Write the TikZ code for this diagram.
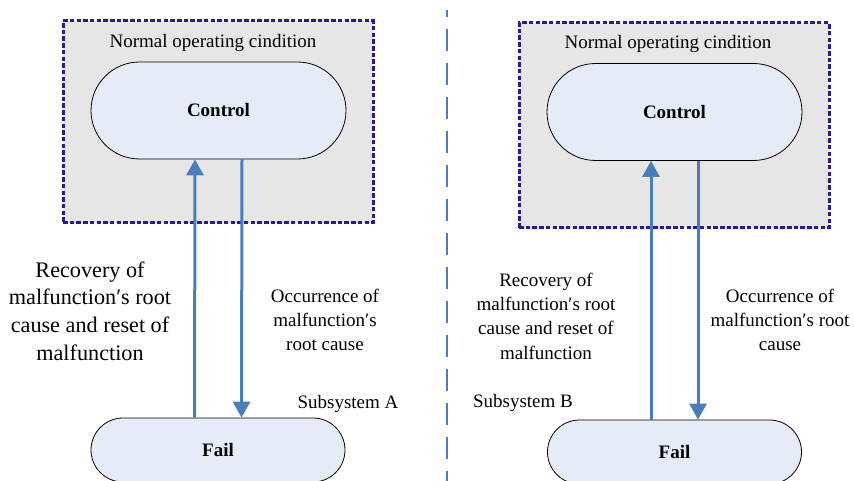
\documentclass[tikz,border=0pt]{standalone}
\usepackage{fontspec}
\setmainfont{Liberation Serif}
\usetikzlibrary{arrows.meta}
\definecolor{boxfill}{RGB}{230,230,230}
\definecolor{boxline}{RGB}{40,28,135}
\definecolor{nodefill}{RGB}{230,236,247}
\definecolor{arrowblue}{RGB}{74,126,187}
\begin{document}
\begin{tikzpicture}[x=1pt,y=-1pt,
  panel/.style={draw=boxline, fill=boxfill, line width=3pt, dash pattern=on 4.5pt off 2.2pt, inner sep=0pt},
  stadium/.style={draw=black, line width=0.8pt, fill=nodefill, inner sep=0pt, font=\fontsize{19}{23}\selectfont\bfseries},
  ctrl/.style={stadium, minimum width=255pt, minimum height=97pt, rounded corners=48.5pt},
  failn/.style={stadium, minimum width=254pt, minimum height=64pt, rounded corners=32pt},
  arr/.style={draw=arrowblue, line width=3pt, -{Triangle[width=17pt,length=16pt]}},
  divider/.style={draw=arrowblue, line width=2.8pt, dash pattern=on 22pt off 12pt, dash phase=15pt},
  lbl/.style={inner sep=0pt, align=center, font=\fontsize{19}{24.3}\selectfont},
  biglbl/.style={inner sep=0pt, align=center, font=\fontsize{22.2}{27.7}\selectfont}
]
\useasboundingbox (0,0) rectangle (854,481);
\fill[white] (0,0) rectangle (854,481);

% divider
\coordinate (dtop) at (447,10);
\coordinate (dbot) at (447,481);
\draw[divider] (dtop) -- (dbot);

% ---- Subsystem A ----
\node[panel, minimum width=310pt, minimum height=202pt] (panelA) at (218,122) {};
\node[lbl] (titleA) at (213,43) {Normal operating cindition};
\node[ctrl] (ctrlA) at (218.5,110.5) {Control};
\node[failn] (failA) at (218,450) {Fail};
\draw[arr] ([xshift=-23.5pt]failA.north) -- ([xshift=-23.5pt]ctrlA.south);
\draw[arr] ([xshift=23.5pt]ctrlA.south) -- ([xshift=23.5pt]failA.north);
\node[biglbl] (recA) at (90,311) {Recovery of\\malfunction′s root\\cause and reset of\\malfunction};
\node[lbl] (occA) at (325,320) {Occurrence of\\malfunction′s\\root cause};
\node[lbl] (subA) at (348,404) {Subsystem A};

% ---- Subsystem B ----
\node[panel, minimum width=310pt, minimum height=205pt] (panelB) at (674,125.5) {};
\node[lbl] (titleB) at (668,44) {Normal operating cindition};
\node[ctrl] (ctrlB) at (674.5,112) {Control};
\node[failn] (failB) at (674.5,452) {Fail};
\draw[arr] ([xshift=-23.5pt]failB.north) -- ([xshift=-23.5pt]ctrlB.south);
\draw[arr] ([xshift=23.5pt]ctrlB.south) -- ([xshift=23.5pt]failB.north);
\node[lbl] (recB) at (546,316) {Recovery of\\malfunction′s root\\cause and reset of\\malfunction};
\node[lbl] (occB) at (780,320) {Occurrence of\\malfunction′s root\\cause};
\node[lbl] (subB) at (523,403) {Subsystem B};
\end{tikzpicture}
\end{document}
